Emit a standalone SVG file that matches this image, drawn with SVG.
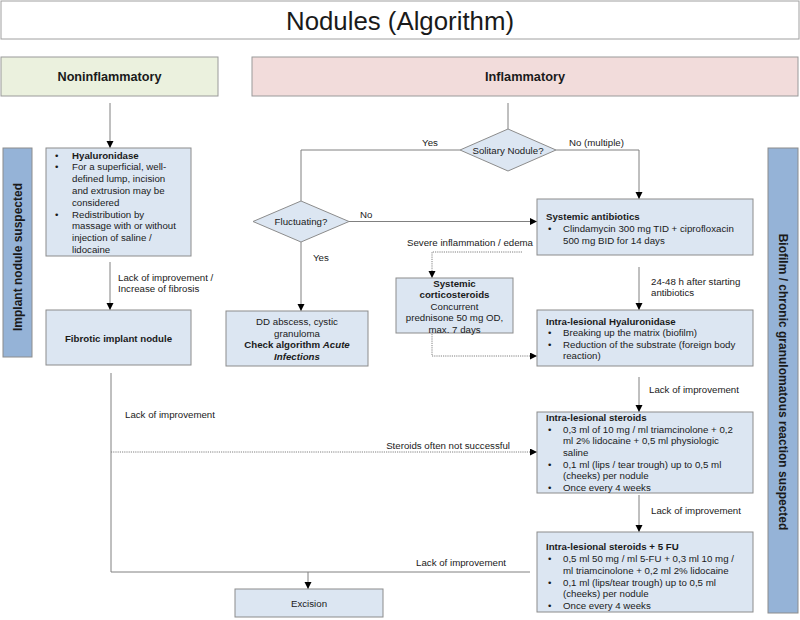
<svg xmlns="http://www.w3.org/2000/svg" width="800" height="620" viewBox="0 0 800 620">
<defs>
<style>
.box{fill:#dce6f2;stroke:#8c8c8c;stroke-width:1}
.bar{fill:#95b3d7;stroke:#8c8c8c;stroke-width:1}
.t{font-family:"Liberation Sans",Arial,sans-serif;font-size:9.7px;fill:#1a1a1a}
.b{font-weight:bold}
.i{font-style:italic}
.c{text-anchor:middle}
.e{text-anchor:end}
.ln{stroke:#808080;fill:none;stroke-width:1}
.dot{stroke-dasharray:1.2 1}
.hd{font-family:"Liberation Sans",Arial,sans-serif;font-size:13.5px;font-weight:bold;fill:#1a1a1a;text-anchor:middle}
.bt{font-family:"Liberation Sans",Arial,sans-serif;font-size:12px;font-weight:bold;fill:#1a1a1a;text-anchor:middle}
</style>
<marker id="ah" markerWidth="8" markerHeight="8" refX="7" refY="3.5" orient="auto" markerUnits="userSpaceOnUse">
<path d="M0,0 L7,3.5 L0,7 z" fill="#000"/>
</marker>
</defs>
<rect width="800" height="620" fill="#fff"/>

<g id="title">
<rect x="1" y="1" width="798" height="38" fill="#fff" stroke="#a0a0a0"/>
<text x="400" y="30" font-family="Liberation Sans, Arial, sans-serif" font-size="26" text-anchor="middle" fill="#1a1a1a" textLength="228" lengthAdjust="spacingAndGlyphs">Nodules (Algorithm)</text>
</g>

<g id="noninflammatory">
<rect x="1" y="57" width="217" height="39" fill="#ebf1de" stroke="#9a9a9a"/>
<text class="hd" x="109.5" y="81" textLength="104" lengthAdjust="spacingAndGlyphs">Noninflammatory</text>
</g>
<g id="inflammatory">
<rect x="252" y="57" width="546" height="39" fill="#f2dcdb" stroke="#9a9a9a"/>
<text class="hd" x="525" y="81" textLength="80" lengthAdjust="spacingAndGlyphs">Inflammatory</text>
</g>

<g id="bar-left">
<rect class="bar" x="3" y="148" width="29" height="209"/>
<text class="bt" transform="translate(22,257) rotate(-90)">Implant nodule suspected</text>
</g>
<g id="bar-right">
<rect class="bar" x="768" y="148" width="30" height="465"/>
<text class="bt" transform="translate(778.5,382) rotate(90)">Biofilm / chronic granulomatous reaction suspected</text>
</g>

<g id="connectors">
<line class="ln" x1="110" y1="103" x2="110" y2="148" marker-end="url(#ah)"/>
<line class="ln" x1="508" y1="103" x2="508" y2="129"/>
<polyline class="ln" points="460,150 301,150 301,201"/>
<polyline class="ln" points="556,150 639,150 639,199" marker-end="url(#ah)"/>
<line class="ln" x1="349" y1="221.5" x2="537" y2="221.5" marker-end="url(#ah)"/>
<line class="ln" x1="301" y1="242" x2="301" y2="311" marker-end="url(#ah)"/>
<line class="ln" x1="110" y1="262" x2="110" y2="310" marker-end="url(#ah)"/>
<polyline class="ln dot" points="522,252 432,252 432,278" marker-end="url(#ah)"/>
<polyline class="ln dot" points="432,334 432,356 537,356" marker-end="url(#ah)"/>
<line class="ln" x1="639" y1="267" x2="639" y2="310" marker-end="url(#ah)"/>
<line class="ln" x1="639" y1="377" x2="639" y2="412" marker-end="url(#ah)"/>
<line class="ln" x1="639" y1="495" x2="639" y2="532" marker-end="url(#ah)"/>
<line class="ln" x1="111" y1="373" x2="111" y2="572"/>
<line class="ln dot" x1="111" y1="452" x2="537" y2="452" marker-end="url(#ah)"/>
<line class="ln" x1="111" y1="572" x2="530" y2="572"/>
<line class="ln" x1="308" y1="572" x2="308" y2="589" marker-end="url(#ah)"/>
<g class="t">
<text x="430" y="145.5" class="c">Yes</text>
<text x="569" y="145.5">No (multiple)</text>
<text x="360" y="217.5">No</text>
<text x="313" y="260.5">Yes</text>
<text x="118" y="280.5">Lack of improvement /</text>
<text x="118" y="292">Increase of fibrosis</text>
<text x="533" y="245.5" class="e">Severe inflammation / edema</text>
<text x="651" y="284.5">24-48 h after starting</text>
<text x="651" y="296">antibiotics</text>
<text x="649" y="392.5">Lack of improvement</text>
<text x="651" y="513.5">Lack of improvement</text>
<text x="125" y="417.5">Lack of improvement</text>
<text x="510" y="448.5" class="e">Steroids often not successful</text>
<text x="506" y="565.5" class="e">Lack of improvement</text>
</g>
</g>

<g id="hyaluronidase">
<rect class="box" x="46" y="148" width="145" height="108"/>
<g class="t">
<text x="55" y="158.5">•</text><text x="72" y="158.5" class="b">Hyaluronidase</text>
<text x="55" y="170.3">•</text><text x="72" y="170.3">For a superficial, well-</text>
<text x="72" y="182.1">defined lump, incision</text>
<text x="72" y="193.9">and extrusion may be</text>
<text x="72" y="205.7">considered</text>
<text x="55" y="217.5">•</text><text x="72" y="217.5">Redistribution by</text>
<text x="72" y="229.3">massage with or without</text>
<text x="72" y="241.1">injection of saline /</text>
<text x="72" y="252.9">lidocaine</text>
</g>
</g>

<g id="fibrotic">
<rect class="box" x="46" y="310" width="145" height="55"/>
<text class="t b c" x="118.5" y="341.5">Fibrotic implant nodule</text>
</g>

<g id="solitary">
<polygon points="508,129 556,150 508,171 460,150" fill="#dce6f2" stroke="#8c8c8c"/>
<text class="t c" x="508" y="153.5">Solitary Nodule?</text>
</g>

<g id="fluctuating">
<polygon points="301,201 349,221.5 301,242 253,221.5" fill="#dce6f2" stroke="#8c8c8c"/>
<text class="t c" x="301" y="225">Fluctuating?</text>
</g>

<g id="dd-abscess">
<rect class="box" x="226" y="311" width="142" height="55"/>
<g class="t c">
<text x="297" y="325">DD abscess, cystic</text>
<text x="297" y="336.5">granuloma</text>
<text x="297" y="348" class="b">Check algorithm <tspan class="i">Acute</tspan></text>
<text x="297" y="359.5" class="b i">Infections</text>
</g>
</g>

<g id="corticosteroids">
<rect class="box" x="396" y="278" width="117" height="55"/>
<g class="t c">
<text x="454.5" y="286.5" class="b">Systemic</text>
<text x="454.5" y="298" class="b">corticosteroids</text>
<text x="454.5" y="309.5">Concurrent</text>
<text x="454.5" y="321">prednisone 50 mg OD,</text>
<text x="454.5" y="332.5">max. 7 days</text>
</g>
</g>

<g id="antibiotics">
<rect class="box" x="537" y="199" width="216" height="56"/>
<g class="t">
<text x="546" y="219.5" class="b">Systemic antibiotics</text>
<text x="548" y="231.5">•</text><text x="563" y="231.5">Clindamycin 300 mg TID + ciprofloxacin</text>
<text x="563" y="243.5">500 mg BID for 14 days</text>
</g>
</g>

<g id="il-hyaluronidase">
<rect class="box" x="537" y="310" width="216" height="56"/>
<g class="t">
<text x="546" y="324.5" class="b">Intra-lesional Hyaluronidase</text>
<text x="548" y="336">•</text><text x="563" y="336">Breaking up the matrix (biofilm)</text>
<text x="548" y="347.5">•</text><text x="563" y="347.5">Reduction of the substrate (foreign body</text>
<text x="563" y="359">reaction)</text>
</g>
</g>

<g id="il-steroids">
<rect class="box" x="537" y="412" width="216" height="81"/>
<g class="t">
<text x="546" y="421" class="b">Intra-lesional steroids</text>
<text x="548" y="432.5">•</text><text x="563" y="432.5">0,3 ml of 10 mg / ml triamcinolone + 0,2</text>
<text x="563" y="444.3">ml 2% lidocaine + 0,5 ml physiologic</text>
<text x="563" y="456">saline</text>
<text x="548" y="467.7">•</text><text x="563" y="467.7">0,1 ml (lips / tear trough) up to 0,5 ml</text>
<text x="563" y="479.3">(cheeks) per nodule</text>
<text x="548" y="491">•</text><text x="563" y="491">Once every 4 weeks</text>
</g>
</g>

<g id="il-steroids-5fu">
<rect class="box" x="537" y="532" width="216" height="80"/>
<g class="t">
<text x="546" y="549.5" class="b">Intra-lesional steroids + 5 FU</text>
<text x="548" y="561.5">•</text><text x="563" y="561.5">0,5 ml 50 mg / ml 5-FU + 0,3 ml 10 mg /</text>
<text x="563" y="573.5">ml triamcinolone + 0,2 ml 2% lidocaine</text>
<text x="548" y="585.5">•</text><text x="563" y="585.5">0,1 ml (lips/tear trough) up to 0,5 ml</text>
<text x="563" y="597">(cheeks) per nodule</text>
<text x="548" y="609">•</text><text x="563" y="609">Once every 4 weeks</text>
</g>
</g>

<g id="excision">
<rect class="box" x="235" y="589" width="148" height="28"/>
<text class="t c" x="309" y="606.5">Excision</text>
</g>
</svg>
